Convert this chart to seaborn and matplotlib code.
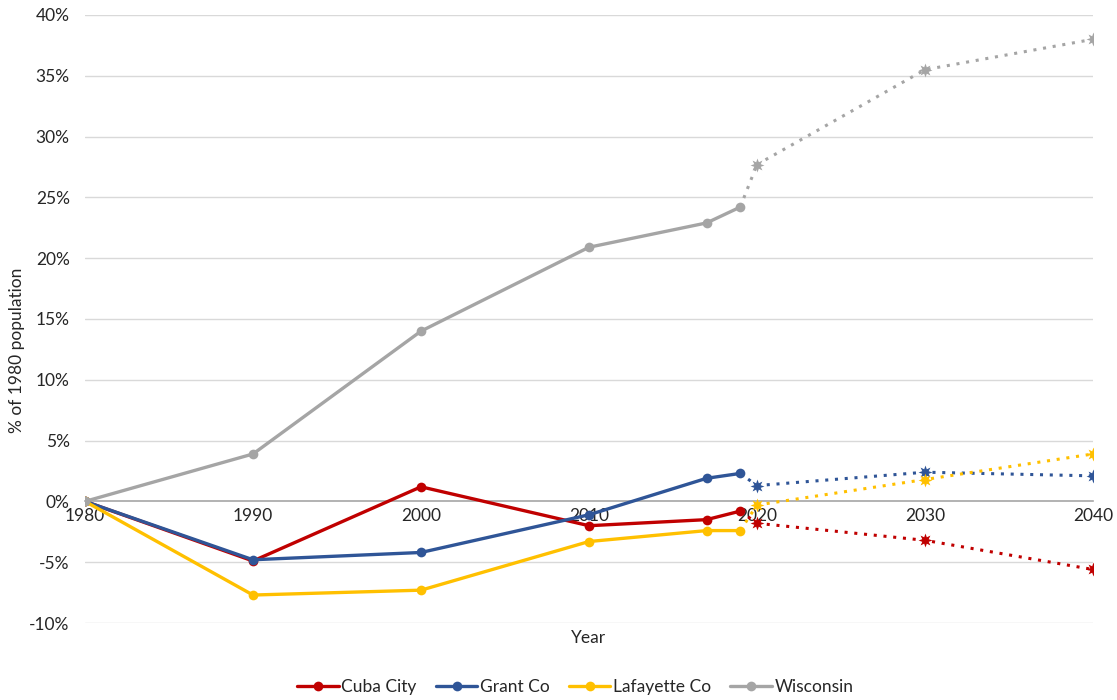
import seaborn as sns
import pandas as pd
import matplotlib.pyplot as plt
from matplotlib.ticker import PercentFormatter

# observed values, % change vs 1980
years = [1980, 1990, 2000, 2010, 2017, 2019]
cuba_city = [0, -4.9, 1.2, -2.0, -1.5, -0.8]
grant_co = [0, -4.8, -4.2, -1.1, 1.9, 2.3]
lafayette_co = [0, -7.7, -7.3, -3.3, -2.4, -2.4]
wisconsin = [0, 3.9, 14.0, 20.9, 22.9, 24.2]

# projections (start at last observed point)
proj_years = [2019, 2020, 2030, 2040]
cuba_city_proj = [-0.8, -1.8, -3.2, -5.6]
grant_co_proj = [2.3, 1.3, 2.4, 2.1]
lafayette_co_proj = [-2.4, -0.3, 1.8, 3.9]
wisconsin_proj = [24.2, 27.7, 35.5, 38.0]

names = ["Cuba City", "Grant Co", "Lafayette Co", "Wisconsin"]
colors = ["#C00000", "#2F5597", "#FFC000", "#A5A5A5"]

obs = pd.DataFrame({
    "year": years * 4,
    "pct": cuba_city + grant_co + lafayette_co + wisconsin,
    "area": [n for n in names for _ in years],
})
proj = pd.DataFrame({
    "year": proj_years * 4,
    "pct": cuba_city_proj + grant_co_proj + lafayette_co_proj + wisconsin_proj,
    "area": [n for n in names for _ in proj_years],
})
palette = dict(zip(names, colors))

sns.set_style("white")
plt.rcParams['font.family'] = ['Lato', 'DejaVu Sans']
plt.rcParams['axes.unicode_minus'] = False

fig = plt.figure(figsize=(11.17, 7.0), dpi=100)
ax = fig.add_axes([0.0761, 0.11, 0.9024, 0.8686])

for y in range(-10, 41, 5):
    if y != 0:
        ax.axhline(y, color="#D9D9D9", lw=1, zorder=0)

# projections first (dotted)
for n in names:
    d = proj[proj.area == n]
    ax.plot(d.year.iloc[:2], d.pct.iloc[:2], ls=(0, (1, 2.2)), lw=2.2,
            color=palette[n], zorder=2)
sns.lineplot(data=proj[proj.year >= 2020], x="year", y="pct", hue="area",
             palette=palette, linestyle=(0, (1, 2.2)), lw=2.2,
             marker=(8, 1, 0), markersize=10, markeredgewidth=0,
             legend=False, ax=ax, zorder=2)

sns.lineplot(data=obs, x="year", y="pct", hue="area", palette=palette,
             lw=2.4, marker="o", markersize=7, markeredgewidth=0, ax=ax,
             zorder=3)

ax.set_xlim(1980, 2040)
ax.set_ylim(-10, 40)
ax.set_xticks(range(1980, 2041, 10))
ax.set_yticks(range(-10, 41, 5))
ax.yaxis.set_major_formatter(PercentFormatter(decimals=0))
for s in ["top", "right", "left"]:
    ax.spines[s].set_visible(False)
ax.spines["bottom"].set_position(("data", 0))
ax.spines["bottom"].set_color("#A6A6A6")
ax.spines["bottom"].set_linewidth(1.2)
ax.spines["bottom"].set_zorder(1)
ax.tick_params(axis="both", length=0, labelsize=12.5, colors="#262626")
ax.tick_params(axis="x", pad=5)
ax.tick_params(axis="y", pad=11)

ax.set_xlabel("")
ax.set_ylabel("")
fig.text(0.5273, 0.088, "Year", ha="center", va="center", fontsize=12.5,
         color="#262626")
fig.text(0.015, 0.5, "% of 1980 population", rotation=90, ha="center",
         va="center", fontsize=12.5, color="#262626")

h, l = ax.get_legend_handles_labels()
ax.legend_.remove()
fig.legend(h, l, loc="center", bbox_to_anchor=(0.515, 0.018), ncol=4,
           frameon=False, fontsize=12.5, handlelength=2.4, handletextpad=0.15,
           columnspacing=1.1)

fig.savefig("out.png", dpi=100)
